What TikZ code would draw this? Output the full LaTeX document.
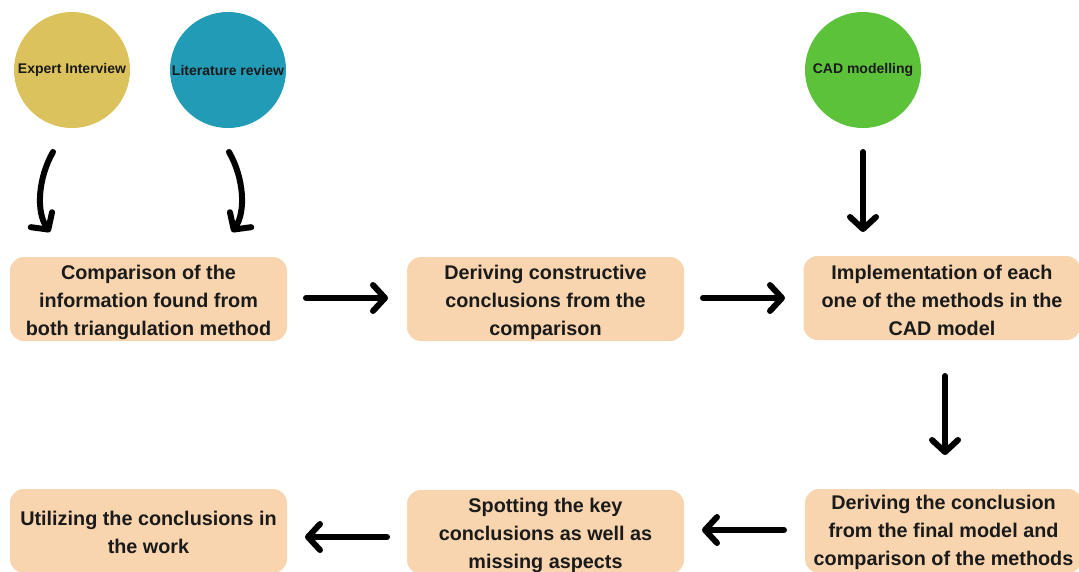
\documentclass[tikz,border=0pt]{standalone}
\usepackage{fontspec}
\setmainfont{Liberation Sans}
\usetikzlibrary{arrows.meta}
\definecolor{expcol}{HTML}{DCC25C}
\definecolor{litcol}{HTML}{229CB6}
\definecolor{cadcol}{HTML}{5CC23A}
\definecolor{boxcol}{HTML}{F8D5AF}
\definecolor{txtcol}{HTML}{1A1A1A}
\tikzset{
  circ/.style={circle, minimum size=116pt, inner sep=0pt, text=txtcol, font=\bfseries\fontsize{14}{16}\selectfont},
  stepbox/.style={rounded corners=14pt, fill=boxcol, minimum width=277pt, minimum height=84pt, inner sep=0pt},
  steptext/.style={align=center, inner sep=0pt, text=txtcol, font=\bfseries\fontsize{19.8}{28}\selectfont},
  flow/.style={line width=6pt, line cap=round, -{Straight Barb[length=12pt, width=26pt, line cap=round, line join=round]}},
}
\begin{document}
\begin{tikzpicture}[x=1pt,y=-1pt]
\useasboundingbox[fill=white] (0,0) rectangle (1079,571);
% circles
\node[circ, fill=expcol] (ei) at (72,70) {Expert Interview};
\node[circ, fill=litcol] (lr) at (228,70) {Literature review};
\node[circ, fill=cadcol] (cad) at (863,70) {CAD modelling};
% boxes
\node[stepbox] (b1) at (148.5,299) {};
\node[stepbox] (b2) at (545.5,299) {};
\node[stepbox] (b3) at (942,298) {};
\node[stepbox] (b4) at (943.5,531) {};
\node[stepbox] (b5) at (545.5,532) {};
\node[stepbox] (b6) at (148.5,531) {};
\node[steptext] (t1) at ([yshift=-3pt]b1) {Comparison of the\\information found from\\both triangulation method};
\node[steptext] (t2) at ([yshift=-3pt]b2) {Deriving constructive\\conclusions from the\\comparison};
\node[steptext] (t3) at ([yshift=-2pt]b3) {Implementation of each\\one of the methods in the\\CAD model};
\node[steptext] (t4) at ([yshift=-1pt]b4) {Deriving the conclusion\\from the final model and\\comparison of the methods};
\node[steptext] (t5) at ([yshift=-3pt]b5) {Spotting the key\\conclusions as well as\\missing aspects};
\node[steptext] (t6) at ([yshift=-1pt]b6) {Utilizing the conclusions in\\the work};
% arrow ends
\coordinate (e1s) at (53,152);  \coordinate (e1e) at (50,232);
\coordinate (l1s) at (229,152); \coordinate (l1e) at (232,232);
\coordinate (c1s) at (863,152); \coordinate (c1e) at (863,232);
\coordinate (h1s) at (306,298); \coordinate (h1e) at (388,298);
\coordinate (h2s) at (703,298); \coordinate (h2e) at (785,298);
\coordinate (v1s) at (945,376); \coordinate (v1e) at (945,455);
\coordinate (h3s) at (784,530); \coordinate (h3e) at (702,530);
\coordinate (h4s) at (387,537); \coordinate (h4e) at (305,537);
% connectors
\draw[flow] (e1s) .. controls (38,178) and (36,212) .. (e1e);
\draw[flow] (l1s) .. controls (244,178) and (246,212) .. (l1e);
\draw[flow] (c1s) -- (c1e);
\draw[flow] (h1s) -- (h1e);
\draw[flow] (h2s) -- (h2e);
\draw[flow] (v1s) -- (v1e);
\draw[flow] (h3s) -- (h3e);
\draw[flow] (h4s) -- (h4e);
\end{tikzpicture}
\end{document}
